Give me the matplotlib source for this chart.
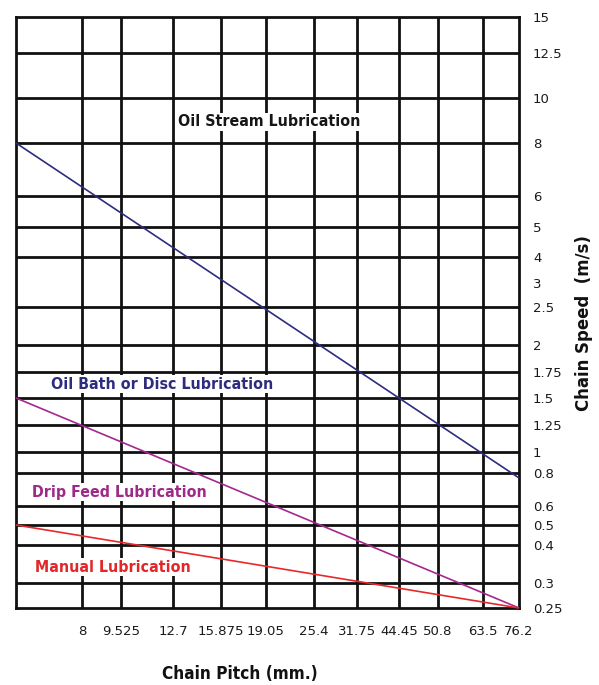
import numpy as np
import matplotlib
matplotlib.use('Agg')
import matplotlib.pyplot as plt
from matplotlib import font_manager

# ---- data -------------------------------------------------------------
pitch_labels = ['8', '9.525', '12.7', '15.875', '19.05', '25.4', '31.75',
                '44.45', '50.8', '63.5', '76.2']
pitch_values = [8, 9.525, 12.7, 15.875, 19.05, 25.4, 31.75, 44.45, 50.8, 63.5, 76.2]
pitch_min = 6.35   # unlabelled left edge of the chart

speed_labels = ['0.25', '0.3', '0.4', '0.5', '0.6', '0.8', '1', '1.25', '1.5',
                '1.75', '2', '2.5', '3', '4', '5', '6', '8', '10', '12.5', '15']
speed_values = [0.25, 0.3, 0.4, 0.5, 0.6, 0.8, 1, 1.25, 1.5, 1.75, 2, 2.5, 3,
                4, 5, 6, 8, 10, 12.5, 15]
speed_grid = [v for v in speed_values if v != 3]   # no grid line at 3

# boundary lines: speed at the left edge and at 76.2 mm
boundary_start = [8, 1.5, 0.5]
boundary_end = [0.77, 0.25, 0.25]
boundary_colors = ['#2e2c7e', '#a3288f', '#e8282b']

zone_names = ['Oil Stream Lubrication', 'Oil Bath or Disc Lubrication',
              'Drip Feed Lubrication', 'Manual Lubrication']
zone_colors = ['#161616', '#2e2c7e', '#9e2a88', '#e32629']

# ---- irregular chart scales (as printed on the original chart) --------
x_scale_vals = [pitch_min] + pitch_values
x_scale_pos = [0, 66, 105, 157, 205, 250, 298, 341, 383, 422, 467, 503]
y_scale_vals = speed_values
y_scale_pos = [0, 25, 63, 83, 102, 135, 156, 183, 210, 236, 263, 301, 325,
               351, 381, 412, 465, 510, 555, 591]


def fwd(xp, fp):
    return lambda v: np.interp(v, xp, fp)


def inv(xp, fp):
    return lambda v: np.interp(v, fp, xp)


# condensed bold for the headings
names = {f.name for f in font_manager.fontManager.ttflist}
if 'Liberation Sans Narrow' in names:
    head = dict(family='Liberation Sans Narrow', fontweight='bold')
else:
    head = dict(family='DejaVu Sans', fontstretch='condensed', fontweight='bold')

fig = plt.figure(figsize=(5.99, 6.85), dpi=100)
ax = fig.add_axes([16 / 599, 1 - 608 / 685, 503 / 599, 591 / 685])

ax.set_xscale('function', functions=(fwd(x_scale_vals, x_scale_pos),
                                      inv(x_scale_vals, x_scale_pos)))
ax.set_yscale('function', functions=(fwd(y_scale_vals, y_scale_pos),
                                      inv(y_scale_vals, y_scale_pos)))
ax.set_xlim(pitch_min, pitch_values[-1])
ax.set_ylim(speed_values[0], speed_values[-1])

# grid
for p in pitch_values[:-1]:
    ax.axvline(p, color='#111111', lw=2.0, zorder=1)
for s in speed_grid[1:-1]:
    ax.axhline(s, color='#111111', lw=2.0, zorder=1)
for sp in ax.spines.values():
    sp.set_linewidth(2.0)
    sp.set_color('#111111')

# boundary lines
for start, end, c in zip(boundary_start, boundary_end, boundary_colors):
    ax.plot([pitch_min, pitch_values[-1]], [start, end], color=c, lw=1.2,
            zorder=3, solid_capstyle='butt', clip_on=False)

# zone labels
zone_xy = [(269, 122), (162, 384), (119, 492), (113, 567)]
for name, c, (px, py) in zip(zone_names, zone_colors, zone_xy):
    fig.text(px / 599, 1 - py / 685, name, color=c, fontsize=11.4, **head,
             ha='center', va='center', zorder=5,
             bbox=dict(facecolor='white', edgecolor='none', pad=1.0))

# ticks
ax.set_xticks(pitch_values)
ax.set_xticklabels(pitch_labels)
ax.xaxis.set_minor_locator(matplotlib.ticker.NullLocator())
ax.yaxis.tick_right()
ax.set_yticks(speed_values)
ax.set_yticklabels(speed_labels)
ax.yaxis.set_minor_locator(matplotlib.ticker.NullLocator())
ax.tick_params(axis='both', length=0, labelsize=9.5, colors='#1a1a1a')
ax.tick_params(axis='y', pad=10)
ax.tick_params(axis='x', pad=12)
for t in ax.get_yticklabels():
    t.set_ha('left')

fig.text(240 / 599, 1 - 674 / 685, 'Chain Pitch (mm.)', fontsize=12.3,
         ha='center', va='center', color='#111111', **head)
fig.text(584 / 599, 1 - 323 / 685, 'Chain Speed  (m/s)', fontsize=13.2,
         ha='center', va='center', rotation=90, color='#111111', **head)

fig.savefig('out.png', dpi=100)
